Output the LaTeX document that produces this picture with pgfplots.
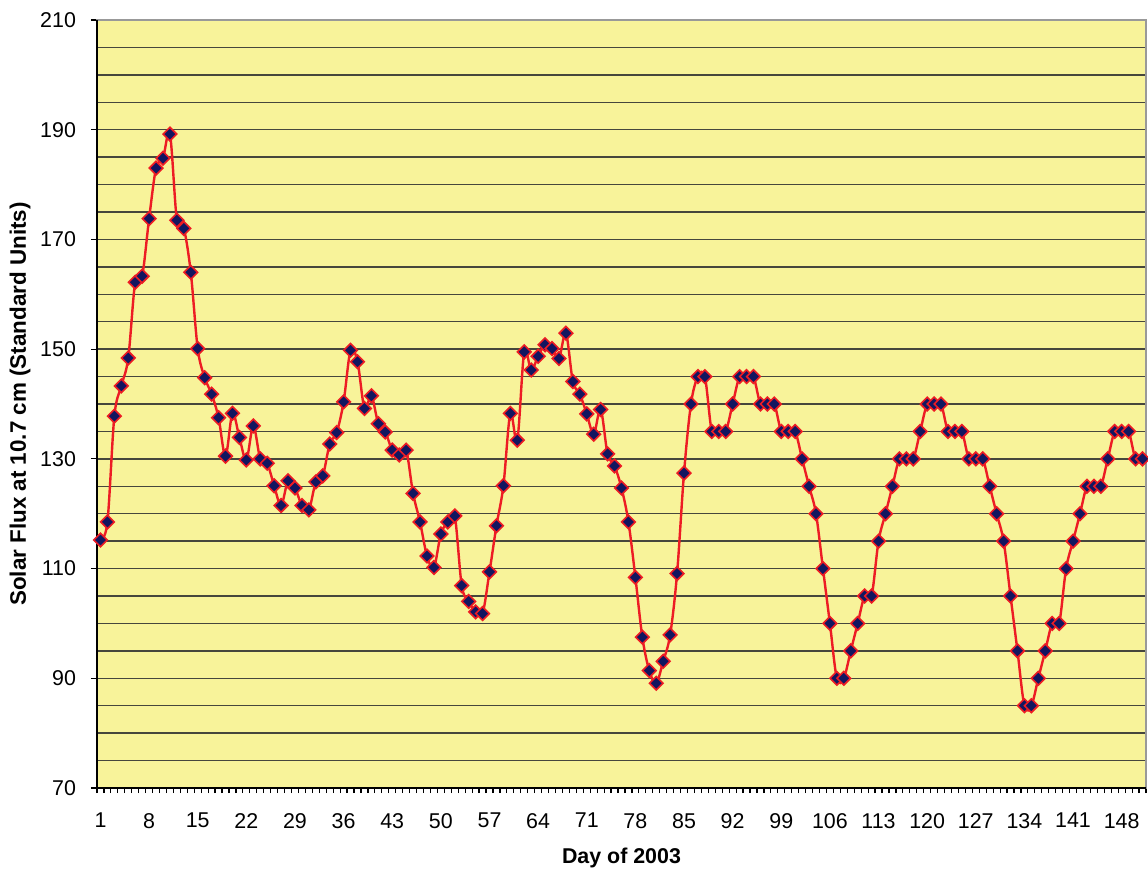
\documentclass[border=0pt]{standalone}
\usepackage{fontspec}
\setmainfont{Liberation Sans}
\usepackage{pgfplots}
\pgfplotsset{compat=1.18}
\usepackage{pgfplotstable}

\definecolor{plotbg}{RGB}{248,243,154}
\definecolor{fluxred}{RGB}{237,28,36}
\definecolor{fluxnavy}{RGB}{18,22,96}
\definecolor{gridc}{RGB}{70,70,60}

% daily solar flux, days 1-151 of 2003
\pgfplotstableread{
day flux
1 115.2
2 118.5
3 137.8
4 143.3
5 148.4
6 162.2
7 163.3
8 173.8
9 183.0
10 184.8
11 189.2
12 173.5
13 172.0
14 164.0
15 150.1
16 144.8
17 141.8
18 137.5
19 130.5
20 138.3
21 133.9
22 129.8
23 136.0
24 130.0
25 129.2
26 125.1
27 121.5
28 126.0
29 124.7
30 121.5
31 120.7
32 125.8
33 126.9
34 132.7
35 134.8
36 140.4
37 149.8
38 147.7
39 139.2
40 141.5
41 136.4
42 134.9
43 131.6
44 130.7
45 131.6
46 123.7
47 118.5
48 112.3
49 110.2
50 116.3
51 118.5
52 119.6
53 106.9
54 104.0
55 102.1
56 101.8
57 109.4
58 117.8
59 125.1
60 138.3
61 133.4
62 149.5
63 146.2
64 148.7
65 150.8
66 150.1
67 148.3
68 152.9
69 144.1
70 141.8
71 138.2
72 134.5
73 139.0
74 130.9
75 128.7
76 124.7
77 118.5
78 108.4
79 97.5
80 91.4
81 89.1
82 93.1
83 97.9
84 109.1
85 127.4
86 140.0
87 145
88 145
89 135
90 135
91 135
92 140
93 145
94 145
95 145
96 140
97 140
98 140
99 135
100 135
101 135
102 130
103 125
104 120
105 110
106 100
107 90
108 90
109 95
110 100
111 105
112 105
113 115
114 120
115 125
116 130
117 130
118 130
119 135
120 140
121 140
122 140
123 135
124 135
125 135
126 130
127 130
128 130
129 125
130 120
131 115
132 105
133 95
134 85
135 85
136 90
137 95
138 100
139 100
140 110
141 115
142 120
143 125
144 125
145 125
146 130
147 135
148 135
149 135
150 130
151 130
}\fluxdata

\begin{document}
\begin{tikzpicture}
\begin{axis}[
    scale only axis,
    width=524.5pt,
    height=384pt,
    xmin=0.5, xmax=151.5,
    ymin=70, ymax=210,
    font=\fontsize{10.7}{12.5}\selectfont,
    /pgf/number format/assume math mode=true,
    xtick={1,8,...,148},
    minor xtick={0.5,1.5,...,151.5},
    major x tick style={draw=none},
    ytick={70,90,...,210},
    minor ytick={75,80,...,205},
    minor y tick style={draw=none},
    xtick pos=left, ytick pos=left,
    tick align=outside,
    major tick length=3pt,
    minor tick length=2.5pt,
    tick style={black, line width=0.6pt},
    ymajorgrids, yminorgrids,
    major grid style={gridc, line width=0.75pt},
    minor grid style={gridc, line width=0.75pt},
    axis line style={draw=gray!80, line width=1.2pt},
    axis background/.style={fill=plotbg},
    xticklabel style={yshift=-6pt},
    yticklabel style={xshift=-4pt},
    xlabel={\textbf{Day of 2003}},
    ylabel={\fontsize{11.2}{13}\selectfont\textbf{Solar Flux at 10.7 cm (Standard Units)}},
    xlabel style={at={(axis description cs:0.5,-0.0911)}, anchor=center},
    ylabel style={at={(axis description cs:-0.0734,0.5)}, anchor=center},
    clip=false,
]
\draw[black, line width=0.8pt] (rel axis cs:0,1) -- (rel axis cs:0,0) -- (rel axis cs:1,0);
\addplot[fluxred, line width=1.2pt, smooth, tension=0.55,
    mark=square*, mark size=2.4pt,
    mark options={solid, rotate=45, fill=fluxnavy, draw=fluxred, line width=0.8pt}]
    table[x=day, y=flux] {\fluxdata};
\end{axis}
\pgfresetboundingbox
\useasboundingbox (-48.5pt,-43.5pt) rectangle (525.5pt,394pt);
\end{tikzpicture}
\end{document}
